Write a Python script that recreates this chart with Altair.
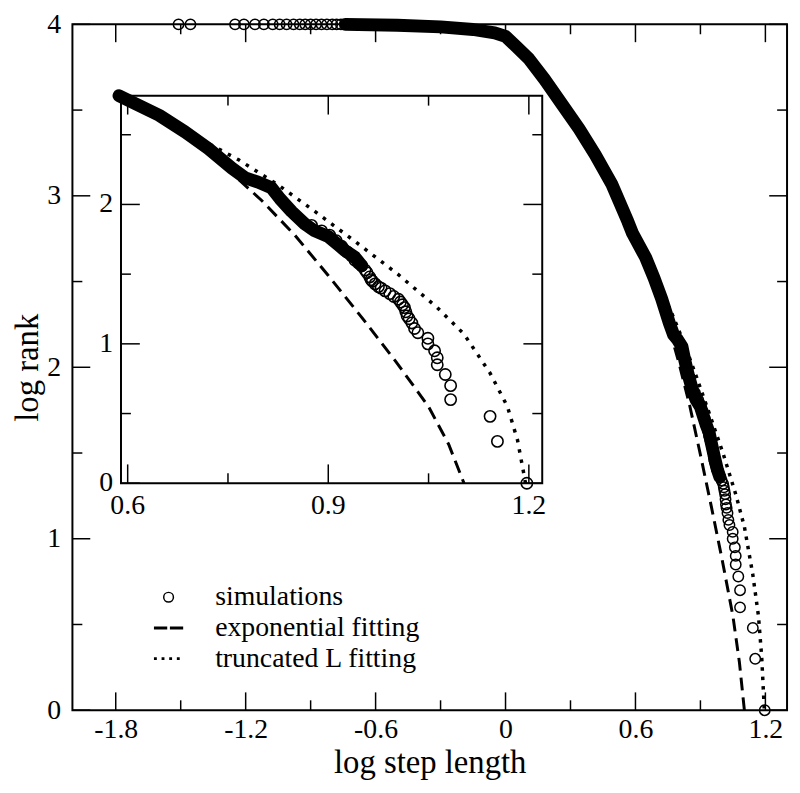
import altair as alt
import pandas as pd

# ---------------- data ----------------
# sparse simulation circles at the very top (log rank ~ 4)
top_x = [-1.51, -1.455, -1.249, -1.208, -1.157, -1.116, -1.075, -1.043, -1.011,
         -0.979, -0.95, -0.925, -0.90, -0.875, -0.85, -0.825, -0.80, -0.78, -0.76]
top_y = [4.0, 4.0, 4.0, 4.0, 4.0, 4.0, 4.0, 4.0, 4.0,
         4.0, 4.0, 4.0, 4.0, 4.0, 4.0, 4.0, 4.0, 4.0, 4.0]

# dense part of the simulations (drawn as a solid band of markers)
band_x = [-0.74, -0.5, -0.3, -0.15, -0.05, 0.0, 0.05, 0.107, 0.18, 0.263, 0.34,
          0.414, 0.49, 0.565, 0.587, 0.647, 0.686, 0.721, 0.756, 0.776, 0.795,
          0.815, 0.828, 0.845, 0.865, 0.88, 0.90, 0.915, 0.925, 0.94, 0.95]
band_y = [4.0, 3.995, 3.985, 3.97, 3.95, 3.93, 3.87, 3.80, 3.68, 3.53, 3.39,
          3.24, 3.07, 2.85, 2.78, 2.64, 2.52, 2.40, 2.26, 2.19, 2.16,
          2.12, 2.04, 1.95, 1.86, 1.81, 1.77, 1.71, 1.67, 1.62, 1.56]
# in the compressed main panel the markers stay merged a little further down
band_more_x = [0.964, 0.979, 0.99]
band_more_y = [1.48, 1.40, 1.36]

# tail of the simulations (individual circles)
tail_x = [1.197, 1.153, 1.142, 1.083, 1.083, 1.075, 1.063, 1.063, 1.059, 1.049,
          1.049, 1.034, 1.029, 1.025, 1.021, 1.018, 1.016, 1.014, 1.011, 1.008,
          1.005, 0.998, 0.992, 0.985, 0.979, 0.975, 0.970, 0.966, 0.964, 0.962,
          0.958, 0.955, 0.950, 0.945, 0.940, 0.935, 0.928, 0.920, 0.912, 0.902,
          0.890, 0.875]
tail_y = [0.0, 0.30, 0.48, 0.60, 0.70, 0.78, 0.85, 0.90, 0.95, 1.00,
          1.04, 1.08, 1.11, 1.15, 1.18, 1.20, 1.23, 1.26, 1.28, 1.30,
          1.32, 1.34, 1.36, 1.38, 1.40, 1.41, 1.43, 1.45, 1.46, 1.48,
          1.51, 1.53, 1.56, 1.58, 1.60, 1.63, 1.66, 1.70, 1.74, 1.78,
          1.81, 1.85]

# exponential fitting (dashed)
exp_x = [0.60, 0.65, 0.70, 0.75, 0.80, 0.85, 0.90, 0.95, 1.00, 1.05, 1.08, 1.103]
exp_y = [2.77, 2.62, 2.45, 2.25, 2.03, 1.78, 1.49, 1.19, 0.88, 0.55, 0.28, 0.0]

# truncated Levy fitting (dotted)
dot_x = [0.60, 0.65, 0.716, 0.766, 0.825, 0.88, 0.944, 1.004, 1.063, 1.103,
         1.142, 1.168, 1.183, 1.192, 1.195]
dot_y = [2.76, 2.63, 2.45, 2.32, 2.14, 1.95, 1.72, 1.50, 1.26, 1.07,
         0.79, 0.55, 0.31, 0.08, 0.0]

series_names = ["simulations", "exponential fitting", "truncated L fitting"]

# axes / ticks
main_xdom = [-2.0, 1.3]
main_ydom = [0.0, 4.0]
main_xmajor = [-1.8, -1.2, -0.6, 0.0, 0.6, 1.2]
main_xminor = [-1.5, -0.9, -0.3, 0.3, 0.9]
main_ymajor = [0.0, 1.0, 2.0, 3.0, 4.0]
main_yminor = [0.5, 1.5, 2.5, 3.5]

inset_xdom = [0.59, 1.22]
inset_ydom = [0.0, 2.78]
inset_xmajor = [0.6, 0.9, 1.2]
inset_xmajor_lbl = ["0.6", "0.9", "1.2"]
inset_xminor = [0.75, 1.05]
inset_ymajor = [0.0, 1.0, 2.0]
inset_ymajor_lbl = ["0", "1", "2"]
inset_yminor = [0.5, 1.5, 2.5]

# ---------------- layout ----------------
W, H = 721, 692
IL, IR, IT, IB = 49, 474, 72, 463   # inset box inside the main plot area (px)
FONT = "Liberation Serif"
MAJ, MIN = 18, 10
LBL = 28
TTL = 33

sim_df = pd.DataFrame({"x": top_x + tail_x, "y": top_y + tail_y,
                       "series": "simulations"})
band_df = pd.DataFrame({"x": band_x, "y": band_y})
main_band_df = pd.DataFrame({"x": band_x + band_more_x, "y": band_y + band_more_y})
exp_df = pd.DataFrame({"x": exp_x, "y": exp_y})
dot_df = pd.DataFrame({"x": dot_x, "y": dot_y})
inset_band_df = band_df[band_df["x"] >= 0.58]
inset_sim_df = pd.DataFrame({"x": tail_x, "y": tail_y})

# ---------------- main chart ----------------
mxs = alt.Scale(domain=main_xdom, nice=False, zero=False)
mys = alt.Scale(domain=main_ydom, nice=False, zero=False)
xaxis = alt.Axis(values=main_xmajor, labelExpr="toString(datum.value)", ticks=False,
                 domain=False, grid=False, labelFont=FONT, labelFontSize=LBL,
                 labelColor="black", labelPadding=6, labelFlush=False,
                 title="log step length", titleFont=FONT, titleFontSize=TTL,
                 titleFontWeight="normal", titleColor="black", titlePadding=3)
yaxis = alt.Axis(values=main_ymajor, labelExpr="toString(datum.value)", ticks=False,
                 domain=False, grid=False, labelFont=FONT, labelFontSize=LBL,
                 labelColor="black", labelPadding=12, labelFlush=False,
                 title="log rank", titleFont=FONT, titleFontSize=TTL,
                 titleFontWeight="normal", titleColor="black", titlePadding=2)
MX = alt.X("x:Q", scale=mxs, axis=xaxis)
MY = alt.Y("y:Q", scale=mys, axis=yaxis)


def vticks(vals, X, y0, y1):
    return alt.Chart(pd.DataFrame({"x": vals})).mark_rule(
        color="black", strokeWidth=1.5).encode(x=X, y=alt.value(y0), y2=alt.value(y1))


def hticks(vals, Y, x0, x1):
    return alt.Chart(pd.DataFrame({"y": vals})).mark_rule(
        color="black", strokeWidth=1.5).encode(y=Y, x=alt.value(x0), x2=alt.value(x1))


main_ticks = [
    vticks(main_xmajor, MX, H, H - MAJ), vticks(main_xminor, MX, H, H - MIN),
    vticks(main_xmajor, MX, 0, MAJ), vticks(main_xminor, MX, 0, MIN),
    hticks(main_ymajor, MY, 0, MAJ), hticks(main_yminor, MY, 0, MIN),
    hticks(main_ymajor, MY, W, W - MAJ), hticks(main_yminor, MY, W, W - MIN),
]

circle_path = "M0.35,0A0.35,0.35,0,1,1,-0.35,0A0.35,0.35,0,1,1,0.35,0Z"
dash_path = "M-1,-0.05H-0.15V0.05H-1Z M0.15,-0.05H1V0.05H0.15Z"
dots_path = ("M-1,-0.05h0.1v0.1h-0.1Z M-0.45,-0.05h0.1v0.1h-0.1Z "
             "M0.1,-0.05h0.1v0.1h-0.1Z M0.65,-0.05h0.1v0.1h-0.1Z")

main_exp = alt.Chart(exp_df).mark_line(color="black", strokeWidth=3,
                                       strokeDash=[13, 7]).encode(x=MX, y=MY)
main_dot = alt.Chart(dot_df).mark_line(color="black", strokeWidth=3.5,
                                       strokeDash=[3.5, 6]).encode(x=MX, y=MY)
main_band = alt.Chart(main_band_df).mark_line(color="black", strokeWidth=13,
                                              strokeCap="round", strokeJoin="round").encode(x=MX, y=MY)
main_sim = alt.Chart(sim_df).mark_point(filled=False, color="black", strokeWidth=1.5,
                                        size=900, opacity=1).encode(
    x=MX, y=MY,
    shape=alt.Shape("series:N",
                    scale=alt.Scale(domain=series_names,
                                    range=[circle_path, dash_path, dots_path]),
                    legend=alt.Legend(title=None, orient="none", legendX=82, legendY=563,
                                      symbolSize=784, symbolStrokeWidth=1.5,
                                      symbolStrokeColor="black",
                                      symbolFillColor="transparent", symbolOpacity=1,
                                      labelFont=FONT, labelFontSize=LBL,
                                      labelColor="black", labelOffset=32,
                                      rowPadding=2, padding=0, labelLimit=500)),
)

main = alt.layer(*main_ticks, main_exp, main_dot, main_band, main_sim)

# ---------------- inset ----------------
ixs = alt.Scale(domain=inset_xdom, range=[IL, IR], nice=False, zero=False)
iys = alt.Scale(domain=inset_ydom, range=[IB, IT], nice=False, zero=False)
IX = alt.X("x:Q", scale=ixs, axis=None)
IY = alt.Y("y:Q", scale=iys, axis=None)
IX2 = alt.X2("x2:Q")
IY2 = alt.Y2("y2:Q")

frame_df = pd.DataFrame({"x": [inset_xdom[0]], "x2": [inset_xdom[1]],
                         "y": [inset_ydom[0]], "y2": [inset_ydom[1]]})
inset_frame = alt.Chart(frame_df).mark_rect(fill="white", stroke="black",
                                            strokeWidth=2).encode(x=IX, x2=IX2, y=IY, y2=IY2)
inset_ticks = [
    vticks(inset_xmajor, IX, IB, IB - 19), vticks(inset_xminor, IX, IB, IB - 10),
    vticks(inset_xmajor, IX, IT, IT + 19), vticks(inset_xminor, IX, IT, IT + 10),
    hticks(inset_ymajor, IY, IL, IL + 19), hticks(inset_yminor, IY, IL, IL + 10),
    hticks(inset_ymajor, IY, IR, IR - 19), hticks(inset_yminor, IY, IR, IR - 10),
]
inset_xlab = alt.Chart(pd.DataFrame({"x": inset_xmajor, "t": inset_xmajor_lbl})).mark_text(
    font=FONT, fontSize=LBL, color="black", baseline="top", align="center").encode(
    x=IX, y=alt.value(IB + 9), text="t:N")
inset_ylab = alt.Chart(pd.DataFrame({"y": inset_ymajor, "t": inset_ymajor_lbl})).mark_text(
    font=FONT, fontSize=LBL, color="black", baseline="middle", align="right").encode(
    y=IY, x=alt.value(IL - 8), text="t:N")

inset_exp = alt.Chart(exp_df).mark_line(color="black", strokeWidth=3,
                                        strokeDash=[13, 7]).encode(x=IX, y=IY)
inset_dot = alt.Chart(dot_df).mark_line(color="black", strokeWidth=3.5,
                                        strokeDash=[3.5, 7]).encode(x=IX, y=IY)
inset_band = alt.Chart(inset_band_df).mark_line(color="black", strokeWidth=13,
                                                strokeCap="round", strokeJoin="round").encode(x=IX, y=IY)
inset_sim = alt.Chart(inset_sim_df).mark_point(filled=False, color="black", strokeWidth=1.6,
                                               size=130, shape="circle", opacity=1).encode(x=IX, y=IY)

inset = alt.layer(inset_frame, *inset_ticks, inset_xlab, inset_ylab,
                  inset_exp, inset_dot, inset_band, inset_sim)

chart = alt.layer(main, inset).resolve_scale(x="independent", y="independent").properties(
    width=W, height=H,
    autosize=alt.AutoSizeParams(type="none"),
    padding={"left": 65, "top": 13, "right": 5, "bottom": 77},
    background="white",
).configure_view(stroke="black", strokeWidth=2)

chart.save("out.html", embed_options={"renderer": "svg", "actions": False})
